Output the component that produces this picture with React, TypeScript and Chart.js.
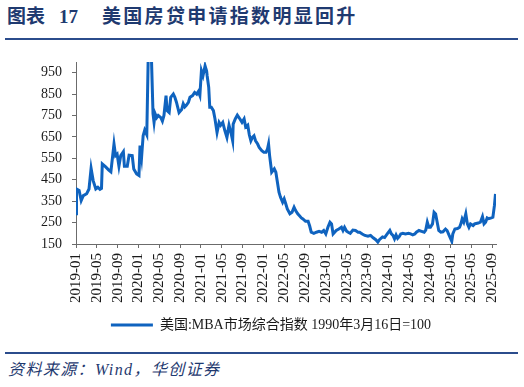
import React, { useEffect, useRef } from "react";
import { Chart, registerables } from "chart.js";

Chart.register(...registerables);

// months elapsed since 2019-01 (x position of each observation)
const monthOffsets = [
  0.0, 0.1, 0.6, 1.0, 1.4, 2.05, 2.5, 2.9, 3.3, 3.8, 4.2, 4.6, 4.9, 5.05, 5.7, 6.3, 6.7,
  7.3, 7.6, 7.9, 8.25, 8.6, 9.1, 9.3, 9.85, 10.2, 10.8, 11.1, 11.65, 12.1, 12.3, 12.6,
  12.9, 13.2, 13.6, 14.1, 14.4, 14.8, 15.0, 15.2, 15.5, 15.8, 16.3, 16.6, 16.9, 17.3,
  17.5, 17.9, 18.2, 18.7, 19.0, 19.3, 19.8, 20.3, 20.6, 20.9, 21.2, 21.6, 21.9, 22.4,
  22.8, 23.2, 23.5, 23.8, 24.1, 24.4, 24.8, 25.1, 25.2, 25.5, 25.7, 26.0, 26.4, 26.7,
  27.1, 27.5, 27.8, 28.2, 28.6, 29.0, 29.4, 29.75, 30.1, 30.2, 30.6, 31.0, 31.5, 31.9,
  32.3, 32.6, 33.0, 33.3, 33.6, 33.9, 34.2, 34.5, 34.9, 35.2, 35.7, 36.1, 36.5, 36.8,
  37.0, 37.2, 37.6, 38.1, 38.4, 38.7, 39.0, 39.3, 39.7, 40.0, 40.3, 40.6, 41.1, 41.5,
  41.9, 42.2, 42.6, 42.9, 43.3, 43.6, 44.1, 44.6, 44.9, 45.2, 45.7, 46.2, 46.7, 47.2,
  47.6, 48.0, 48.4, 48.8, 49.1, 49.4, 49.7, 50.0, 50.5, 51.0, 51.3, 51.6, 52.0, 52.3,
  52.7, 53.2, 53.7, 54.2, 54.5, 55.0, 55.5, 56.1, 56.6, 57.1, 57.6, 58.0, 58.3, 58.9,
  59.3, 59.8, 60.3, 60.6, 60.9, 61.2, 61.5, 61.8, 62.1, 62.4, 62.8, 63.3, 63.9, 64.3,
  64.7, 65.1, 65.4, 65.9, 66.4, 66.9, 67.2, 67.5, 67.8, 68.1, 68.5, 68.8, 69.1, 69.4,
  69.7, 70.1, 70.5, 71.0, 71.3, 71.7, 72.0, 72.2, 72.4, 72.8, 73.3, 73.7, 74.0, 74.2,
  74.5, 74.9, 75.2, 75.5, 75.8, 76.3, 76.6, 76.9, 77.3, 77.7, 78.1, 78.4, 78.7, 79.0,
  79.3, 79.8, 80.1, 80.4, 80.6,
];

// MBA market composite index (1990-03-16 = 100)
const mbaIndex = [
  291, 407, 400, 353, 376, 385, 407, 503, 446, 407, 415, 405, 410, 524, 510, 495, 487,
  617, 563, 570, 513, 563, 581, 513, 513, 565, 563, 500, 477, 470, 610, 555,
  656, 682, 660, 1320, 1100, 758, 718, 758, 740, 750, 740, 724, 750, 843,
  773, 764, 835, 850, 835, 812, 764, 778, 805, 790, 798, 812, 835, 843,
  858, 850, 862, 843, 959, 936, 982, 958, 936, 882, 789, 789, 773, 735,
  671, 718, 705, 718, 680, 648, 705, 673, 632, 710, 734, 752, 734, 718,
  734, 697, 705, 660, 632, 648, 655, 632, 617, 601, 586, 578, 578, 594,
  617, 563, 485, 501, 485, 438, 392, 368, 345, 361, 338, 314, 291, 298,
  322, 306, 291, 283, 272, 267, 256, 256, 234, 205, 200, 205, 209, 205,
  213, 197, 228, 252, 244, 197, 205, 213, 220, 228, 213, 228, 210, 205,
  200, 215, 213, 205, 205, 197, 190, 186, 190, 179, 170, 159, 170, 183,
  180, 197, 213, 197, 190, 174, 192, 176, 184, 197, 200, 197, 200, 197,
  193, 197, 205, 213, 209, 205, 215, 252, 228, 228, 244, 298, 290, 252,
  213, 205, 207, 220, 213, 190, 174, 163, 197, 220, 222, 228, 248, 267,
  252, 291, 244, 228, 244, 236, 244, 246, 248, 252, 278, 244, 252, 272,
  268, 272, 275, 330, 384,
];

const xTickMonths = [0, 4, 8, 12, 16, 20, 24, 28, 32, 36, 40, 44, 48, 52, 56, 60, 64, 68, 72, 76, 80];
const yTickValues = [150, 250, 350, 450, 550, 650, 750, 850, 950];
const seriesLabel = "美国:MBA市场综合指数 1990年3月16日=100";

const LINE_COLOR = "#0F63BF";
const AXIS_COLOR = "#6b6b6b";
const TEXT_COLOR = "#1a1a1a";
const NAVY = "#1F3A70";
const SERIF = "'Liberation Serif', 'Times New Roman', 'Noto Sans CJK SC', serif";

function monthLabel(v: number): string {
  const y = 2019 + Math.floor(v / 12);
  const m = (v % 12) + 1;
  return `${y}-${m < 10 ? "0" + m : m}`;
}

// shifts the (centered) legend horizontally to where the reference places it
const legendShift = {
  id: "legendShift",
  afterLayout(chart: any) {
    const lg = chart.legend;
    if (lg) {
      lg.left += 23;
      lg.right += 23;
    }
  },
};

export default function App() {
  const ref = useRef<HTMLCanvasElement>(null);

  useEffect(() => {
    const canvas = ref.current!;
    const chart = new Chart(canvas, {
      type: "line",
      data: {
        datasets: [
          {
            label: seriesLabel,
            data: monthOffsets.map((m, i) => ({ x: m, y: mbaIndex[i] })),
            borderColor: LINE_COLOR,
            backgroundColor: LINE_COLOR,
            borderWidth: 3,
            pointRadius: 0,
            tension: 0,
            fill: false,
          },
        ],
      },
      plugins: [legendShift],
      options: {
        animation: false,
        responsive: false,
        maintainAspectRatio: false,
        layout: { padding: { top: 22, right: 28, left: 0, bottom: 0 } },
        plugins: {
          tooltip: { enabled: false },
          legend: {
            position: "bottom",
            labels: {
              usePointStyle: true,
              pointStyle: "line",
              pointStyleWidth: 42,
              color: TEXT_COLOR,
              font: { family: SERIF, size: 14 },
              padding: 10,
            },
          },
        },
        scales: {
          x: {
            type: "linear",
            min: 0,
            max: 80.7,
            afterBuildTicks: (s: any) => {
              s.ticks = xTickMonths.map((v) => ({ value: v }));
            },
            afterFit: (s: any) => {
              s.height = 64;
            },
            ticks: {
              autoSkip: false,
              maxRotation: 90,
              minRotation: 90,
              padding: 5,
              color: TEXT_COLOR,
              font: { family: SERIF, size: 15 },
              callback: (v: any) => monthLabel(Number(v)),
            },
            grid: { drawOnChartArea: false, tickLength: 4, color: AXIS_COLOR },
            border: { color: AXIS_COLOR },
          },
          y: {
            min: 150,
            max: 1000,
            afterBuildTicks: (s: any) => {
              s.ticks = yTickValues.map((v) => ({ value: v }));
            },
            afterFit: (s: any) => {
              s.width = 76;
            },
            ticks: {
              padding: 10,
              color: TEXT_COLOR,
              font: { family: SERIF, size: 14 },
            },
            grid: { drawOnChartArea: false, tickLength: 4, color: AXIS_COLOR },
            border: { color: AXIS_COLOR },
          },
        },
      },
    });
    return () => chart.destroy();
  }, []);

  return (
    <div style={{ position: "fixed", left: 0, top: 0, width: 524, height: 387, background: "#fff", overflow: "hidden" }}>
      <div
        style={{
          position: "absolute",
          left: 7,
          top: 7,
          lineHeight: "19px",
          fontSize: 19,
          fontWeight: "bold",
          color: NAVY,
          fontFamily: SERIF,
          whiteSpace: "nowrap",
        }}
      >
        <span style={{ letterSpacing: 0 }}>图表</span>
        <span style={{ marginLeft: 14 }}>17</span>
        <span style={{ marginLeft: 24, letterSpacing: "2.3px" }}>美国房贷申请指数明显回升</span>
      </div>
      <div style={{ position: "absolute", left: 5, top: 37.5, width: 513, height: 2, background: "#2B4C8C" }} />
      <canvas ref={ref} width={524} height={302} style={{ position: "absolute", left: 0, top: 40, width: 524, height: 302 }} />
      <div style={{ position: "absolute", left: 5, top: 352, width: 513, height: 2, background: "#2B4C8C" }} />
      <div
        style={{
          position: "absolute",
          left: 8,
          top: 361,
          lineHeight: "18px",
          fontSize: 16,
          fontStyle: "italic",
          color: NAVY,
          fontFamily: SERIF,
          letterSpacing: "1.4px",
          whiteSpace: "nowrap",
        }}
      >
        资料来源：Wind，华创证券
      </div>
    </div>
  );
}
